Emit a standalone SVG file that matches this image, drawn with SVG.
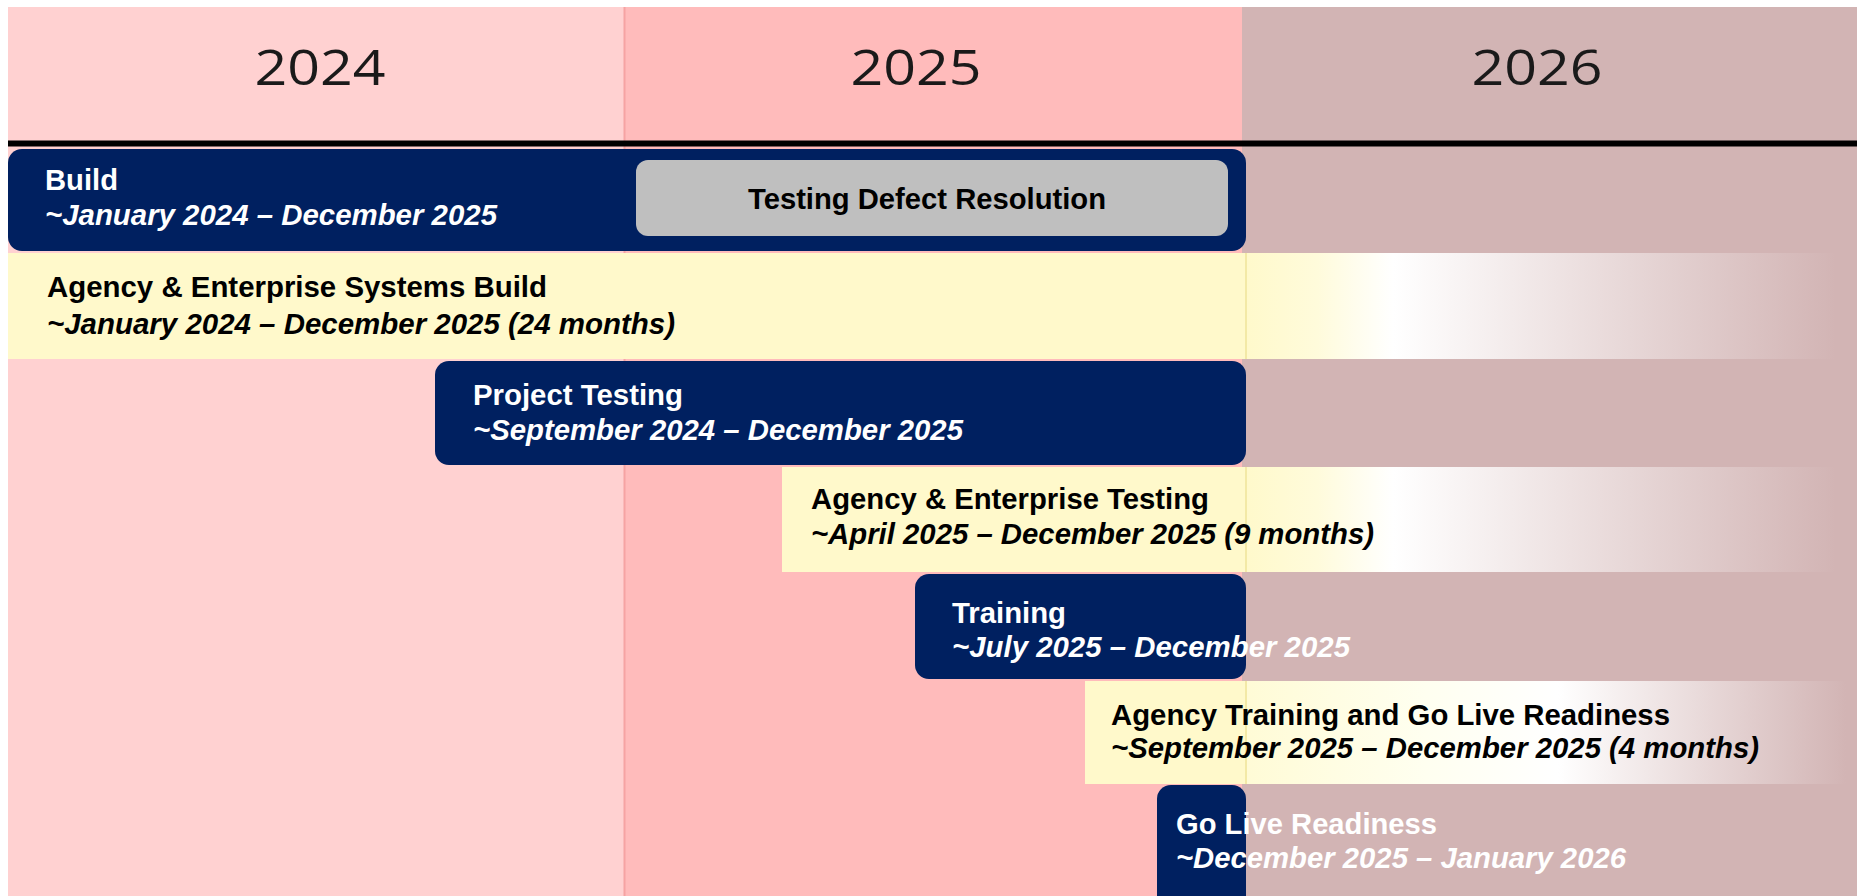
<svg xmlns="http://www.w3.org/2000/svg" width="1857" height="896" viewBox="0 0 1857 896">
<defs>
<style>
.yr{font-family:"Open Sans","Liberation Sans",sans-serif;font-size:49px;fill:#1a1a1a;text-anchor:middle}
.t{font-family:"Liberation Sans",Arial,sans-serif;font-size:30px;font-weight:bold}
.i{font-style:italic}
.w{fill:#ffffff}
.k{fill:#000000}
.navy{fill:#002060}
.yel{fill:#FFF9CB}
</style>
<linearGradient id="fadeA" gradientUnits="userSpaceOnUse" x1="1246" y1="0" x2="1836" y2="0">
<stop offset="0" stop-color="#FFF9CB"/>
<stop offset="0.12" stop-color="#FFFBDB"/>
<stop offset="0.25" stop-color="#FFFFFF"/>
<stop offset="1" stop-color="#D2B4B4"/>
</linearGradient>
<linearGradient id="fadeB" gradientUnits="userSpaceOnUse" x1="1246" y1="0" x2="1846" y2="0">
<stop offset="0" stop-color="#FFFBD6"/>
<stop offset="0.3" stop-color="#FFFFF0"/>
<stop offset="0.52" stop-color="#FFFFFF"/>
<stop offset="1" stop-color="#D2B4B4"/>
</linearGradient>
</defs>
<rect x="0" y="0" width="1857" height="896" fill="#ffffff"/>
<g id="columns">
<rect x="8" y="7" width="616" height="889" fill="#FFD1D1"/>
<rect x="624" y="7" width="618" height="889" fill="#FFBBBB"/>
<rect x="1242" y="7" width="615" height="889" fill="#D2B4B4"/>
<line x1="624.5" y1="7" x2="624.5" y2="896" stroke="#F6A3A3" stroke-width="2"/>
<text class="yr" x="320" y="85" textLength="131" lengthAdjust="spacingAndGlyphs">2024</text>
<text class="yr" x="916" y="85" textLength="131" lengthAdjust="spacingAndGlyphs">2025</text>
<text class="yr" x="1537" y="85" textLength="131" lengthAdjust="spacingAndGlyphs">2026</text>
<line x1="8" y1="143.5" x2="1857" y2="143.5" stroke="#000000" stroke-width="6"/>
</g>
<g id="build">
<rect class="navy" x="8" y="149" width="1238" height="102" rx="14"/>
<text class="t w" x="45" y="190" textLength="73" lengthAdjust="spacingAndGlyphs">Build</text>
<text class="t i w" x="45" y="225" textLength="452" lengthAdjust="spacingAndGlyphs">~January 2024 – December 2025</text>
</g>
<g id="testing-defect-resolution">
<rect x="636" y="160" width="592" height="76" rx="12" fill="#BFBFBF"/>
<text class="t k" x="927" y="209" text-anchor="middle" textLength="358" lengthAdjust="spacingAndGlyphs">Testing Defect Resolution</text>
</g>
<g id="agency-enterprise-systems-build">
<rect x="1246" y="253" width="590" height="106" fill="url(#fadeA)"/>
<rect class="yel" x="8" y="253" width="1238" height="106"/>
<line x1="1246" y1="253" x2="1246" y2="359" stroke="#F3E9A6" stroke-width="2"/>
<text class="t k" x="47" y="297" textLength="500" lengthAdjust="spacingAndGlyphs">Agency &amp; Enterprise Systems Build</text>
<text class="t i k" x="47" y="334" textLength="628" lengthAdjust="spacingAndGlyphs">~January 2024 – December 2025 (24 months)</text>
</g>
<g id="project-testing">
<rect class="navy" x="435" y="361" width="811" height="104" rx="14"/>
<text class="t w" x="473" y="405" textLength="210" lengthAdjust="spacingAndGlyphs">Project Testing</text>
<text class="t i w" x="473" y="440" textLength="490" lengthAdjust="spacingAndGlyphs">~September 2024 – December 2025</text>
</g>
<g id="agency-enterprise-testing">
<rect x="1246" y="467" width="590" height="105" fill="url(#fadeA)"/>
<rect class="yel" x="782" y="467" width="464" height="105"/>
<line x1="1246" y1="467" x2="1246" y2="572" stroke="#F3E9A6" stroke-width="2"/>
<text class="t k" x="811" y="509" textLength="398" lengthAdjust="spacingAndGlyphs">Agency &amp; Enterprise Testing</text>
<text class="t i k" x="811" y="544" textLength="563" lengthAdjust="spacingAndGlyphs">~April 2025 – December 2025 (9 months)</text>
</g>
<g id="training">
<rect class="navy" x="915" y="574" width="331" height="105" rx="14"/>
<text class="t w" x="952" y="623" textLength="114" lengthAdjust="spacingAndGlyphs">Training</text>
<text class="t i w" x="952" y="657" textLength="398" lengthAdjust="spacingAndGlyphs">~July 2025 – December 2025</text>
</g>
<g id="agency-training-go-live">
<rect x="1246" y="681" width="600" height="103" fill="url(#fadeB)"/>
<rect class="yel" x="1085" y="681" width="161" height="103"/>
<line x1="1246" y1="681" x2="1246" y2="784" stroke="#F3E9A6" stroke-width="2"/>
<text class="t k" x="1111" y="725" textLength="559" lengthAdjust="spacingAndGlyphs">Agency Training and Go Live Readiness</text>
<text class="t i k" x="1111" y="758" textLength="648" lengthAdjust="spacingAndGlyphs">~September 2025 – December 2025 (4 months)</text>
</g>
<g id="go-live-readiness">
<rect class="navy" x="1157" y="785" width="89" height="130" rx="14"/>
<text class="t w" x="1176" y="834" textLength="261" lengthAdjust="spacingAndGlyphs">Go Live Readiness</text>
<text class="t i w" x="1176" y="868" textLength="450" lengthAdjust="spacingAndGlyphs">~December 2025 – January 2026</text>
</g>
</svg>
